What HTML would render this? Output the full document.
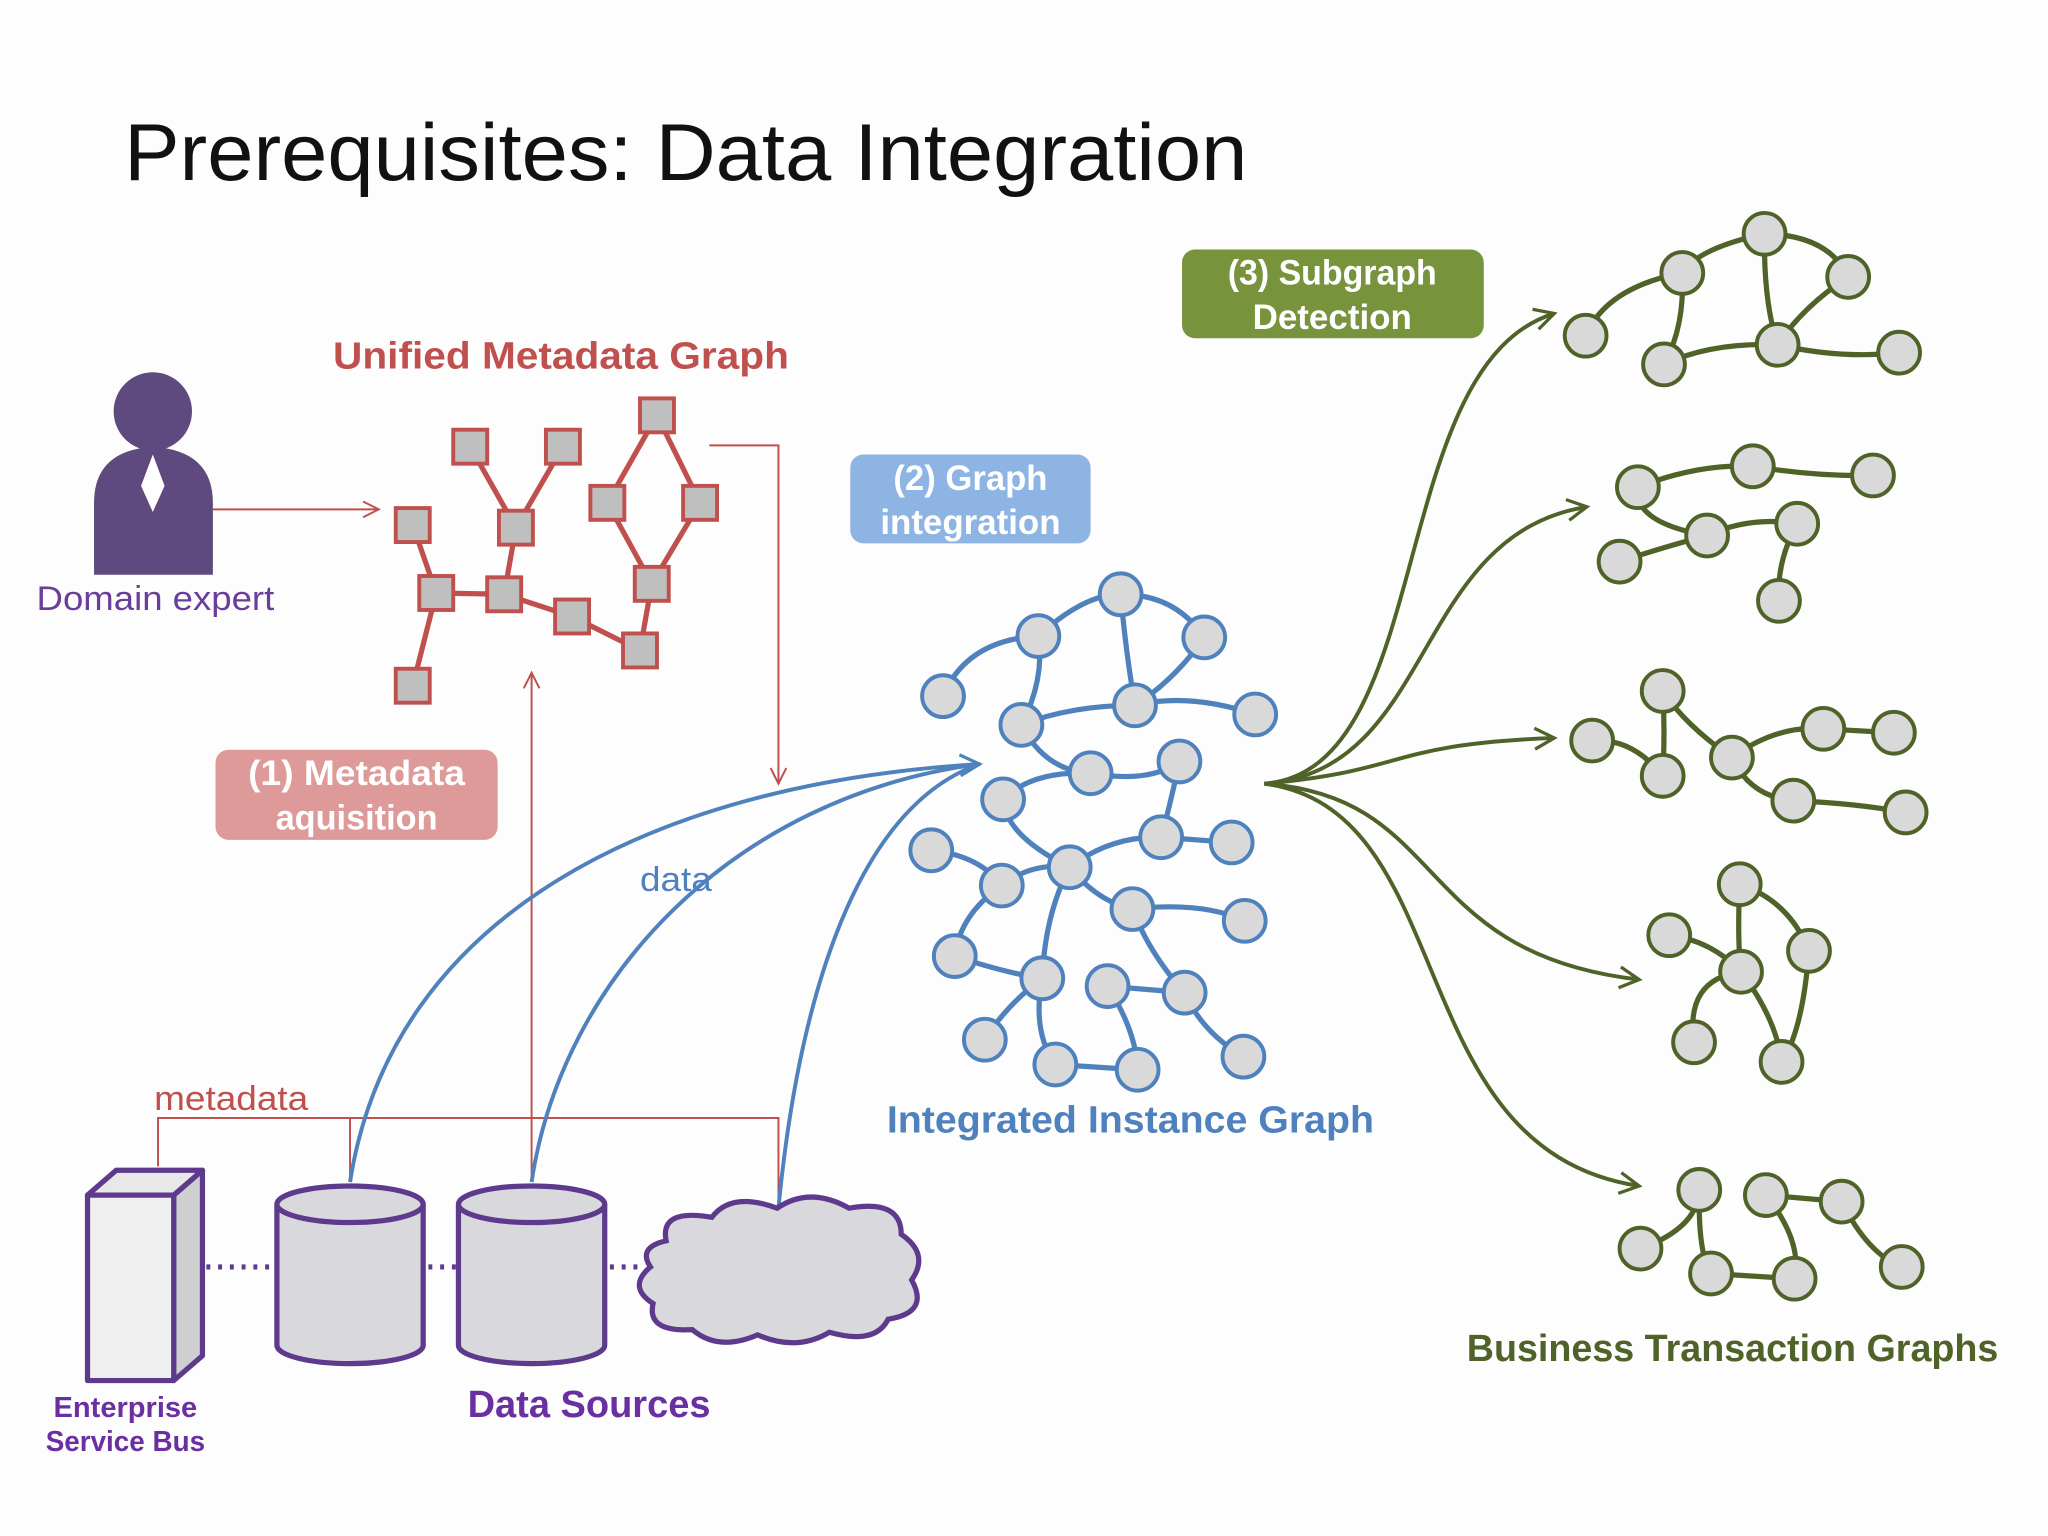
<!DOCTYPE html>
<html><head><meta charset="utf-8"><style>
html,body{margin:0;padding:0;background:#fdfdfd}
svg{display:block}
text{font-family:"Liberation Sans","DejaVu Sans",sans-serif}
</style></head><body>
<svg width="2048" height="1536" viewBox="0 0 1568 1176" preserveAspectRatio="none" xmlns="http://www.w3.org/2000/svg">
<defs>
<marker id="ar" markerWidth="16" markerHeight="16" refX="14" refY="8" orient="auto" markerUnits="userSpaceOnUse"><path d="M2,2 L14,8 L2,14" fill="none" stroke="#c0504d" stroke-width="1.5"/></marker>
<marker id="ab" markerWidth="20" markerHeight="20" refX="17" refY="10" orient="auto" markerUnits="userSpaceOnUse"><path d="M2,2 L17,10 L2,18" fill="none" stroke="#4f81bd" stroke-width="2.5"/></marker>
<marker id="ag" markerWidth="20" markerHeight="20" refX="17" refY="10" orient="auto" markerUnits="userSpaceOnUse"><path d="M2,2 L17,10 L2,18" fill="none" stroke="#4f6228" stroke-width="2.5"/></marker>
</defs>
<rect width="1568" height="1176" fill="#fdfdfd"/>
<text x="95" y="138" font-size="62" fill="#111" textLength="860" lengthAdjust="spacingAndGlyphs">Prerequisites: Data Integration</text>

<!-- domain expert -->
<circle cx="117" cy="315" r="30" fill="#5e4a7e"/>
<path d="M72,440 L72,385 Q72,345 117,342 Q163,345 163,385 L163,440 Z" fill="#5e4a7e"/>
<path d="M117,348 L126,372 L117,392 L108,372 Z" fill="#fff"/>
<text x="28" y="467" font-size="26" fill="#6a3d9a" textLength="182" lengthAdjust="spacingAndGlyphs">Domain expert</text>
<line x1="163" y1="390" x2="290" y2="390" stroke="#c0504d" stroke-width="1.5" marker-end="url(#ar)"/>

<!-- metadata graph -->
<text x="255" y="282" font-size="29" font-weight="bold" fill="#c0504d" textLength="349" lengthAdjust="spacingAndGlyphs">Unified Metadata Graph</text>
<g stroke="#c0504d" stroke-width="4" fill="none">
<line x1="360" y1="342" x2="395" y2="404"/><line x1="431" y1="342" x2="395" y2="404"/>
<line x1="395" y1="404" x2="386" y2="455"/><line x1="316" y1="402" x2="334" y2="454"/>
<line x1="334" y1="454" x2="386" y2="455"/><line x1="334" y1="454" x2="316" y2="525"/>
<line x1="386" y1="455" x2="438" y2="472"/><line x1="438" y1="472" x2="490" y2="498"/>
<line x1="490" y1="498" x2="499" y2="447"/><line x1="499" y1="447" x2="536" y2="385"/>
<line x1="536" y1="385" x2="503" y2="318"/><line x1="503" y1="318" x2="465" y2="385"/>
<line x1="465" y1="385" x2="499" y2="447"/>
</g>
<g fill="#bfbfbf" stroke="#c0504d" stroke-width="3">
<rect x="347" y="329" width="26" height="26"/><rect x="418" y="329" width="26" height="26"/>
<rect x="490" y="305" width="26" height="26"/><rect x="303" y="389" width="26" height="26"/>
<rect x="382" y="391" width="26" height="26"/><rect x="452" y="372" width="26" height="26"/>
<rect x="523" y="372" width="26" height="26"/><rect x="321" y="441" width="26" height="26"/>
<rect x="373" y="442" width="26" height="26"/><rect x="486" y="434" width="26" height="26"/>
<rect x="425" y="459" width="26" height="26"/><rect x="477" y="485" width="26" height="26"/>
<rect x="303" y="512" width="26" height="26"/>
</g>
<polyline points="543,341 596,341 596,600" fill="none" stroke="#c0504d" stroke-width="1.5" marker-end="url(#ar)"/>
<line x1="407" y1="905" x2="407" y2="515" stroke="#c0504d" stroke-width="1.5" marker-end="url(#ar)"/>

<!-- boxes -->
<rect x="165" y="574" width="216" height="69" rx="10" fill="#dd9a98"/>
<text x="273" y="601" font-size="27" font-weight="bold" fill="#fff" text-anchor="middle" textLength="166" lengthAdjust="spacingAndGlyphs">(1) Metadata</text>
<text x="273" y="635" font-size="27" font-weight="bold" fill="#fff" text-anchor="middle" textLength="124" lengthAdjust="spacingAndGlyphs">aquisition</text>
<rect x="651" y="348" width="184" height="68" rx="10" fill="#8db4e2"/>
<text x="743" y="375" font-size="27" font-weight="bold" fill="#fff" text-anchor="middle" textLength="118" lengthAdjust="spacingAndGlyphs">(2) Graph</text>
<text x="743" y="409" font-size="27" font-weight="bold" fill="#fff" text-anchor="middle" textLength="138" lengthAdjust="spacingAndGlyphs">integration</text>
<rect x="905" y="191" width="231" height="68" rx="10" fill="#77933c"/>
<text x="1020" y="218" font-size="27" font-weight="bold" fill="#fff" text-anchor="middle" textLength="160" lengthAdjust="spacingAndGlyphs">(3) Subgraph</text>
<text x="1020" y="252" font-size="27" font-weight="bold" fill="#fff" text-anchor="middle" textLength="122" lengthAdjust="spacingAndGlyphs">Detection</text>

<!-- metadata lines -->
<polyline points="121,893 121,856 596,856 596,925" fill="none" stroke="#c0504d" stroke-width="1.5"/>
<line x1="268" y1="856" x2="268" y2="905" stroke="#c0504d" stroke-width="1.5"/>
<text x="118" y="850" font-size="26" fill="#c0504d" textLength="118" lengthAdjust="spacingAndGlyphs">metadata</text>

<!-- data curves -->
<g fill="none" stroke="#4f81bd" stroke-width="3">
<path d="M268,905 C300,700 500,600 750,585" marker-end="url(#ab)"/>
<path d="M407,905 C430,750 560,610 750,585"/>
<path d="M596,925 C610,780 650,620 750,585"/>
</g>
<text x="490" y="682" font-size="26" fill="#4f81bd" textLength="55" lengthAdjust="spacingAndGlyphs">data</text>

<!-- instance graph -->
<g stroke="#4f81bd" stroke-width="4" fill="none">
<path d="M858,455 Q900,455 922,488"/><path d="M858,455 Q830,455 795,487"/>
<path d="M795,487 Q740,490 722,533"/><path d="M858,455 Q862,500 869,540"/>
<path d="M795,487 Q800,520 782,555"/><path d="M782,555 Q820,540 869,540"/>
<path d="M869,540 Q910,530 961,547"/><path d="M869,540 Q900,520 922,488"/>
<path d="M782,555 Q800,590 835,592"/><path d="M835,592 Q880,600 903,583"/>
<path d="M835,592 Q790,590 768,612"/><path d="M768,612 Q770,640 819,664"/>
<path d="M903,583 Q895,620 889,641"/><path d="M889,641 L943,645"/>
<path d="M819,664 Q850,640 889,641"/><path d="M713,651 Q750,655 767,678"/>
<path d="M767,678 Q790,660 819,664"/><path d="M767,678 Q735,700 731,732"/>
<path d="M731,732 Q770,745 798,749"/><path d="M819,664 Q800,700 798,749"/>
<path d="M819,664 Q840,690 867,696"/><path d="M867,696 Q920,690 953,705"/>
<path d="M798,749 Q770,770 754,796"/><path d="M798,749 Q790,790 808,815"/>
<path d="M808,815 L871,819"/><path d="M848,755 L907,760"/>
<path d="M867,696 Q880,730 907,760"/><path d="M907,760 Q920,790 952,809"/>
<path d="M848,755 Q870,790 871,819"/>
</g>
<g fill="#d9d9d9" stroke="#4f81bd" stroke-width="3">
<circle cx="858" cy="455" r="16"/><circle cx="795" cy="487" r="16"/><circle cx="922" cy="488" r="16"/>
<circle cx="722" cy="533" r="16"/><circle cx="782" cy="555" r="16"/><circle cx="869" cy="540" r="16"/>
<circle cx="961" cy="547" r="16"/><circle cx="835" cy="592" r="16"/><circle cx="903" cy="583" r="16"/>
<circle cx="768" cy="612" r="16"/><circle cx="889" cy="641" r="16"/><circle cx="943" cy="645" r="16"/>
<circle cx="713" cy="651" r="16"/><circle cx="819" cy="664" r="16"/><circle cx="767" cy="678" r="16"/>
<circle cx="867" cy="696" r="16"/><circle cx="953" cy="705" r="16"/><circle cx="731" cy="732" r="16"/>
<circle cx="798" cy="749" r="16"/><circle cx="848" cy="755" r="16"/><circle cx="907" cy="760" r="16"/>
<circle cx="754" cy="796" r="16"/><circle cx="808" cy="815" r="16"/><circle cx="871" cy="819" r="16"/>
<circle cx="952" cy="809" r="16"/>
</g>
<text x="679" y="867" font-size="29" font-weight="bold" fill="#4f81bd" textLength="373" lengthAdjust="spacingAndGlyphs">Integrated Instance Graph</text>

<!-- green curves -->
<g fill="none" stroke="#4f6228" stroke-width="3">
<path d="M968,600 C1100,590 1060,280 1190,240" marker-end="url(#ag)"/>
<path d="M968,600 C1100,590 1080,410 1215,388" marker-end="url(#ag)"/>
<path d="M968,600 C1080,590 1060,570 1190,565" marker-end="url(#ag)"/>
<path d="M968,600 C1110,610 1080,730 1255,750" marker-end="url(#ag)"/>
<path d="M968,600 C1120,620 1070,880 1255,908" marker-end="url(#ag)"/>
</g>
<g stroke="#4f6228" stroke-width="4" fill="none">
<path d="M1351,179 Q1300,190 1288,209"/><path d="M1351,179 Q1400,180 1415,212"/><path d="M1288,209 Q1230,220 1214,257"/>
<path d="M1288,209 Q1290,250 1274,279"/><path d="M1274,279 Q1310,262 1361,264"/><path d="M1351,179 Q1350,230 1361,264"/>
<path d="M1361,264 Q1410,275 1454,270"/><path d="M1361,264 Q1380,235 1415,212"/>
<path d="M1254,373 Q1300,355 1342,357"/><path d="M1342,357 Q1390,365 1434,364"/><path d="M1254,373 Q1250,400 1307,410"/>
<path d="M1307,410 Q1340,395 1376,401"/><path d="M1307,410 Q1270,420 1240,430"/><path d="M1376,401 Q1360,430 1362,460"/>
<path d="M1273,529 Q1275,560 1273,594"/><path d="M1219,567 Q1250,565 1273,594"/><path d="M1273,529 Q1290,555 1326,580"/>
<path d="M1326,580 Q1360,555 1396,558"/><path d="M1396,558 L1450,561"/><path d="M1326,580 Q1340,610 1373,613"/><path d="M1373,613 Q1420,615 1459,622"/>
<path d="M1332,677 Q1330,720 1333,744"/><path d="M1278,716 Q1310,720 1333,744"/><path d="M1332,677 Q1370,690 1385,728"/>
<path d="M1333,744 Q1290,750 1297,798"/><path d="M1333,744 Q1360,780 1364,813"/><path d="M1385,728 Q1380,790 1364,813"/>
<path d="M1301,911 Q1300,940 1256,956"/><path d="M1301,911 Q1300,960 1310,975"/><path d="M1310,975 L1374,979"/>
<path d="M1352,915 Q1380,950 1374,979"/><path d="M1352,915 L1410,920"/><path d="M1410,920 Q1430,960 1456,970"/>
</g>
<g fill="#d9d9d9" stroke="#4f6228" stroke-width="3">
<circle cx="1351" cy="179" r="16"/><circle cx="1288" cy="209" r="16"/><circle cx="1415" cy="212" r="16"/><circle cx="1214" cy="257" r="16"/><circle cx="1274" cy="279" r="16"/><circle cx="1361" cy="264" r="16"/><circle cx="1454" cy="270" r="16"/>
<circle cx="1342" cy="357" r="16"/><circle cx="1254" cy="373" r="16"/><circle cx="1434" cy="364" r="16"/><circle cx="1376" cy="401" r="16"/><circle cx="1307" cy="410" r="16"/><circle cx="1240" cy="430" r="16"/><circle cx="1362" cy="460" r="16"/>
<circle cx="1273" cy="529" r="16"/><circle cx="1219" cy="567" r="16"/><circle cx="1273" cy="594" r="16"/><circle cx="1326" cy="580" r="16"/><circle cx="1396" cy="558" r="16"/><circle cx="1450" cy="561" r="16"/><circle cx="1373" cy="613" r="16"/><circle cx="1459" cy="622" r="16"/>
<circle cx="1332" cy="677" r="16"/><circle cx="1278" cy="716" r="16"/><circle cx="1385" cy="728" r="16"/><circle cx="1333" cy="744" r="16"/><circle cx="1297" cy="798" r="16"/><circle cx="1364" cy="813" r="16"/>
<circle cx="1301" cy="911" r="16"/><circle cx="1352" cy="915" r="16"/><circle cx="1410" cy="920" r="16"/><circle cx="1256" cy="956" r="16"/><circle cx="1310" cy="975" r="16"/><circle cx="1374" cy="979" r="16"/><circle cx="1456" cy="970" r="16"/>
</g>
<text x="1123" y="1042" font-size="29" font-weight="bold" fill="#4f6228" textLength="407" lengthAdjust="spacingAndGlyphs">Business Transaction Graphs</text>

<!-- data sources -->
<g stroke="#5e3a8c" stroke-width="4" stroke-linejoin="round">
<path d="M133,915 L155,896 L155,1038 L133,1057 Z" fill="#cfcfcf"/>
<path d="M67,915 L89,896 L155,896 L133,915 Z" fill="#e8e8e8"/>
<rect x="67" y="915" width="66" height="142" fill="#f0f0f0"/>
</g>
<g stroke="#5e3a8c" stroke-width="4" fill="#d9d8dc">
<path d="M212,922 L212,1030 A56,14 0 0 0 324,1030 L324,922"/>
<ellipse cx="268" cy="922" rx="56" ry="14"/>
<path d="M351,922 L351,1030 A56,14 0 0 0 463,1030 L463,922"/>
<ellipse cx="407" cy="922" rx="56" ry="14"/>
<path d="M510,950 Q505,925 545,932 Q560,912 595,925 Q620,908 650,925 Q690,918 690,945 Q712,960 698,980 Q712,1005 680,1010 Q670,1030 635,1020 Q610,1035 580,1022 Q550,1035 530,1018 Q495,1020 500,998 Q480,985 498,970 Q488,955 510,950 Z"/>
</g>
<g stroke="#5e3a8c" stroke-width="4" stroke-dasharray="3,6">
<line x1="158" y1="970" x2="210" y2="970"/><line x1="328" y1="970" x2="350" y2="970"/><line x1="467" y1="970" x2="490" y2="970"/>
</g>
<text x="96" y="1085" font-size="22" font-weight="bold" fill="#6a2fa0" text-anchor="middle" textLength="110" lengthAdjust="spacingAndGlyphs">Enterprise</text>
<text x="96" y="1111" font-size="22" font-weight="bold" fill="#6a2fa0" text-anchor="middle" textLength="122" lengthAdjust="spacingAndGlyphs">Service Bus</text>
<text x="358" y="1085" font-size="29" font-weight="bold" fill="#6a2fa0" textLength="186" lengthAdjust="spacingAndGlyphs">Data Sources</text>
</svg>
</body></html>
